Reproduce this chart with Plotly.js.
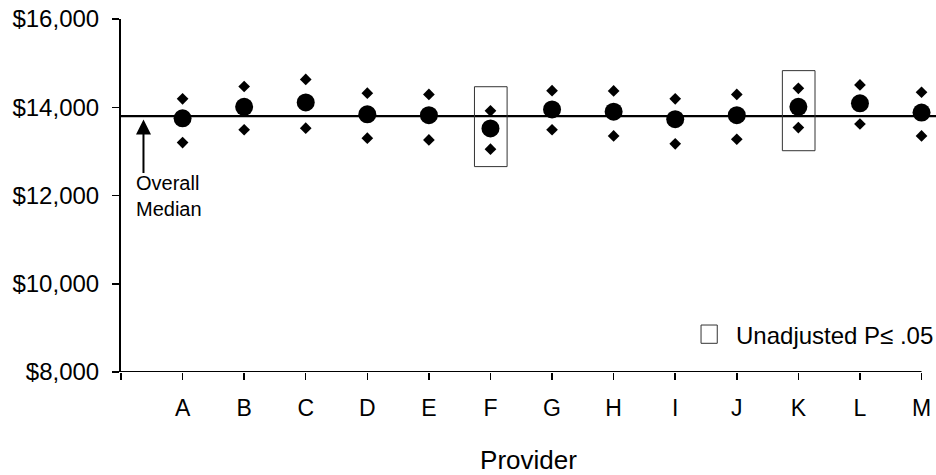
<!DOCTYPE html>
<html>
<head>
<meta charset="utf-8">
<script src="https://cdn.plot.ly/plotly-3.0.1.min.js"></script>
<style>html,body{margin:0;padding:0;background:#fff;}#chart{width:936px;height:475px;}</style>
</head>
<body>
<div id="chart"></div>
<script>
// ---- data ----
const providers = ['A','B','C','D','E','F','G','H','I','J','K','L','M'];
const medianCost = [13750, 14010, 14110, 13840, 13820, 13520, 13950, 13900, 13730, 13820, 14010, 14090, 13880];
const upperCost  = [14190, 14470, 14630, 14320, 14290, 13920, 14375, 14370, 14190, 14290, 14430, 14505, 14340];
const lowerCost  = [13200, 13490, 13525, 13300, 13260, 13050, 13490, 13350, 13170, 13275, 13540, 13620, 13350];
const overallMedian = 13800;
const flaggedProviders = ['F', 'K'];
const flaggedTop    = [14465, 14830];
const flaggedBottom = [12655, 13015];
const yTickVals = [8000, 10000, 12000, 14000, 16000];
const yTickText = ['$8,000', '$10,000', '$12,000', '$14,000', '$16,000'];

const FONT = 'Liberation Sans, Arial, Helvetica, sans-serif';
const xPos = providers.map((p, i) => i + 1);

const traces = [
  {
    x: xPos, y: upperCost, type: 'scatter', mode: 'markers',
    marker: {symbol: 'diamond', size: 9, color: '#000'}, hoverinfo: 'y', showlegend: false
  },
  {
    x: xPos, y: lowerCost, type: 'scatter', mode: 'markers',
    marker: {symbol: 'diamond', size: 9, color: '#000'}, hoverinfo: 'y', showlegend: false
  },
  {
    x: xPos, y: medianCost, type: 'scatter', mode: 'markers',
    marker: {symbol: 'circle', size: 18, color: '#000'}, hoverinfo: 'y', showlegend: false
  }
];

const shapes = [
  // x axis line (from origin to last provider)
  {type: 'line', xref: 'x', yref: 'y', x0: 0, x1: providers.length, y0: 8000, y1: 8000,
   line: {color: '#000', width: 2}, layer: 'above'},
  // overall median line
  {type: 'line', xref: 'x', yref: 'y', x0: 0, x1: providers.length + 0.3, y0: overallMedian, y1: overallMedian,
   line: {color: '#000', width: 2.2}, layer: 'below'},
  // legend box
  {type: 'rect', xref: 'paper', yref: 'paper', x0: 0.7117, x1: 0.7316, y0: 0.0813, y1: 0.1331,
   line: {color: '#333', width: 1}, fillcolor: 'rgba(0,0,0,0)'}
];
flaggedProviders.forEach((p, k) => {
  const i = providers.indexOf(p) + 1;
  shapes.push({type: 'rect', xref: 'x', yref: 'y', x0: i - 0.26, x1: i + 0.27,
    y0: flaggedBottom[k], y1: flaggedTop[k], line: {color: '#333', width: 1}, fillcolor: 'rgba(0,0,0,0)'});
});

const annotations = [
  {x: 0.365, y: 13720, xref: 'x', yref: 'y', text: '', showarrow: true, ax: 0, ay: 55,
   arrowhead: 2, arrowsize: 1.5, arrowwidth: 2, arrowcolor: '#000'},
  {x: 0.21, y: 11990, xref: 'x', yref: 'y', text: 'Overall<br>Median', showarrow: false,
   align: 'left', xanchor: 'left', yanchor: 'middle', font: {family: FONT, size: 20, color: '#000'}},
  {x: 0.752, y: 0.1048, xref: 'paper', yref: 'paper', text: 'Unadjusted P\u2264 .05', showarrow: false,
   xanchor: 'left', yanchor: 'middle', font: {family: FONT, size: 24, color: '#000'}}
];

const layout = {
  width: 936, height: 475,
  margin: {l: 121, r: 0, t: 19, b: 103},
  paper_bgcolor: '#fff', plot_bgcolor: '#fff',
  font: {family: FONT, size: 23, color: '#000'},
  showlegend: false,
  xaxis: {
    range: [0, 13.235], showgrid: false, zeroline: false, showline: false,
    tickmode: 'array', tickvals: [0].concat(xPos), ticktext: [''].concat(providers),
    ticks: 'outside', ticklen: 7, tickwidth: 1.5, tickcolor: '#000',
    ticklabelstandoff: 8,
    tickfont: {family: FONT, size: 23, color: '#000'},
    title: {text: 'Provider', standoff: 31, font: {family: FONT, size: 26, color: '#000'}}
  },
  yaxis: {
    range: [8000, 16000], showgrid: false, zeroline: false, showline: true,
    linecolor: '#000', linewidth: 2,
    tickmode: 'array', tickvals: yTickVals, ticktext: yTickText,
    ticks: 'outside', ticklen: 7, tickwidth: 1.5, tickcolor: '#000',
    ticklabelstandoff: 8,
    tickfont: {family: FONT, size: 24, color: '#000'}
  },
  shapes: shapes,
  annotations: annotations
};

Plotly.newPlot('chart', traces, layout, {displayModeBar: false, staticPlot: true});
</script>
</body>
</html>
